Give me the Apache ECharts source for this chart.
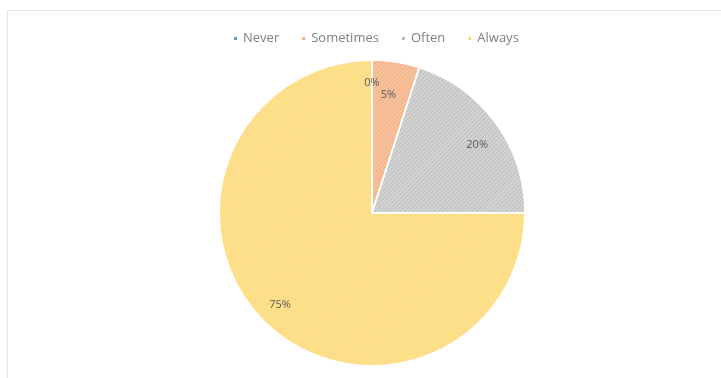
<!DOCTYPE html>
<html>
<head>
<meta charset="utf-8">
<script src="https://cdn.jsdelivr.net/npm/echarts@6/dist/echarts.min.js"></script>
<style>
  html, body { margin: 0; padding: 0; background: #ffffff; }
  #chart { width: 721px; height: 378px; }
</style>
</head>
<body>
<div id="chart"></div>
<script>
// Survey answer shares (percent)
const categories = ['Never', 'Sometimes', 'Often', 'Always'];
const shares = [0, 5, 20, 75];
const sliceColors = ['#a9c4e4', '#f6c3a0', '#d4d4d4', '#fee08c'];
const legendColors = ['#5b9bd5', '#f4b183', '#bfbfbf', '#ffd966'];
const hatchColors = ['rgba(91,155,213,0.35)', 'rgba(237,125,49,0.28)', 'rgba(150,150,150,0.35)', 'rgba(240,200,90,0.15)'];

const chart = echarts.init(document.getElementById('chart'), null, { renderer: 'canvas' });

const sliceData = categories.map((name, i) => ({
  name: name,
  value: shares[i],
  itemStyle: {
    color: sliceColors[i],
    decal: {
      symbol: 'rect',
      color: hatchColors[i],
      dashArrayX: [1, 0],
      dashArrayY: [1, 2],
      rotation: -Math.PI / 4,
      symbolSize: 1
    }
  }
}));

// label ring: same values, drawn transparent so labels sit near the rim
const labelData = categories.map((name, i) => ({
  name: name,
  value: shares[i],
  label: name === 'Sometimes' ? { offset: [-4, 10] } : (name === 'Often' ? { offset: [0, 8] } : {})
}));

const center = [372, 213];
const R = 153;

chart.setOption({
  animation: false,
  graphic: [{
    type: 'rect',
    silent: true,
    shape: { x: 7.5, y: 10.5, width: 730, height: 400 },
    style: { fill: 'none', stroke: '#e3e3e3', lineWidth: 1 }
  }],
  legend: {
    top: 27,
    left: 227,
    itemWidth: 5,
    itemHeight: 5,
    itemGap: 21,
    icon: 'rect',
    data: categories.map((n, i) => ({ name: n, itemStyle: { color: legendColors[i] } })),
    textStyle: { fontFamily: 'Open Sans', fontSize: 13, color: '#7f7f7f' }
  },
  series: [
    {
      type: 'pie',
      center: center,
      radius: [0, R],
      startAngle: 90,
      clockwise: true,
      minAngle: 0,
      avoidLabelOverlap: false,
      label: { show: false },
      labelLine: { show: false },
      itemStyle: { borderColor: '#ffffff', borderWidth: 1.5 },
      emphasis: { disabled: true },
      data: sliceData
    },
    {
      type: 'pie',
      center: center,
      radius: [R * 0.66, R],
      startAngle: 90,
      clockwise: true,
      silent: true,
      legendHoverLink: false,
      avoidLabelOverlap: false,
      itemStyle: { color: 'rgba(0,0,0,0)' },
      label: {
        show: true,
        position: 'inside',
        formatter: p => p.value + '%',
        fontFamily: 'Open Sans',
        fontSize: 11,
        color: '#595959'
      },
      labelLine: { show: false },
      emphasis: { disabled: true },
      data: labelData
    }
  ]
});
</script>
</body>
</html>
